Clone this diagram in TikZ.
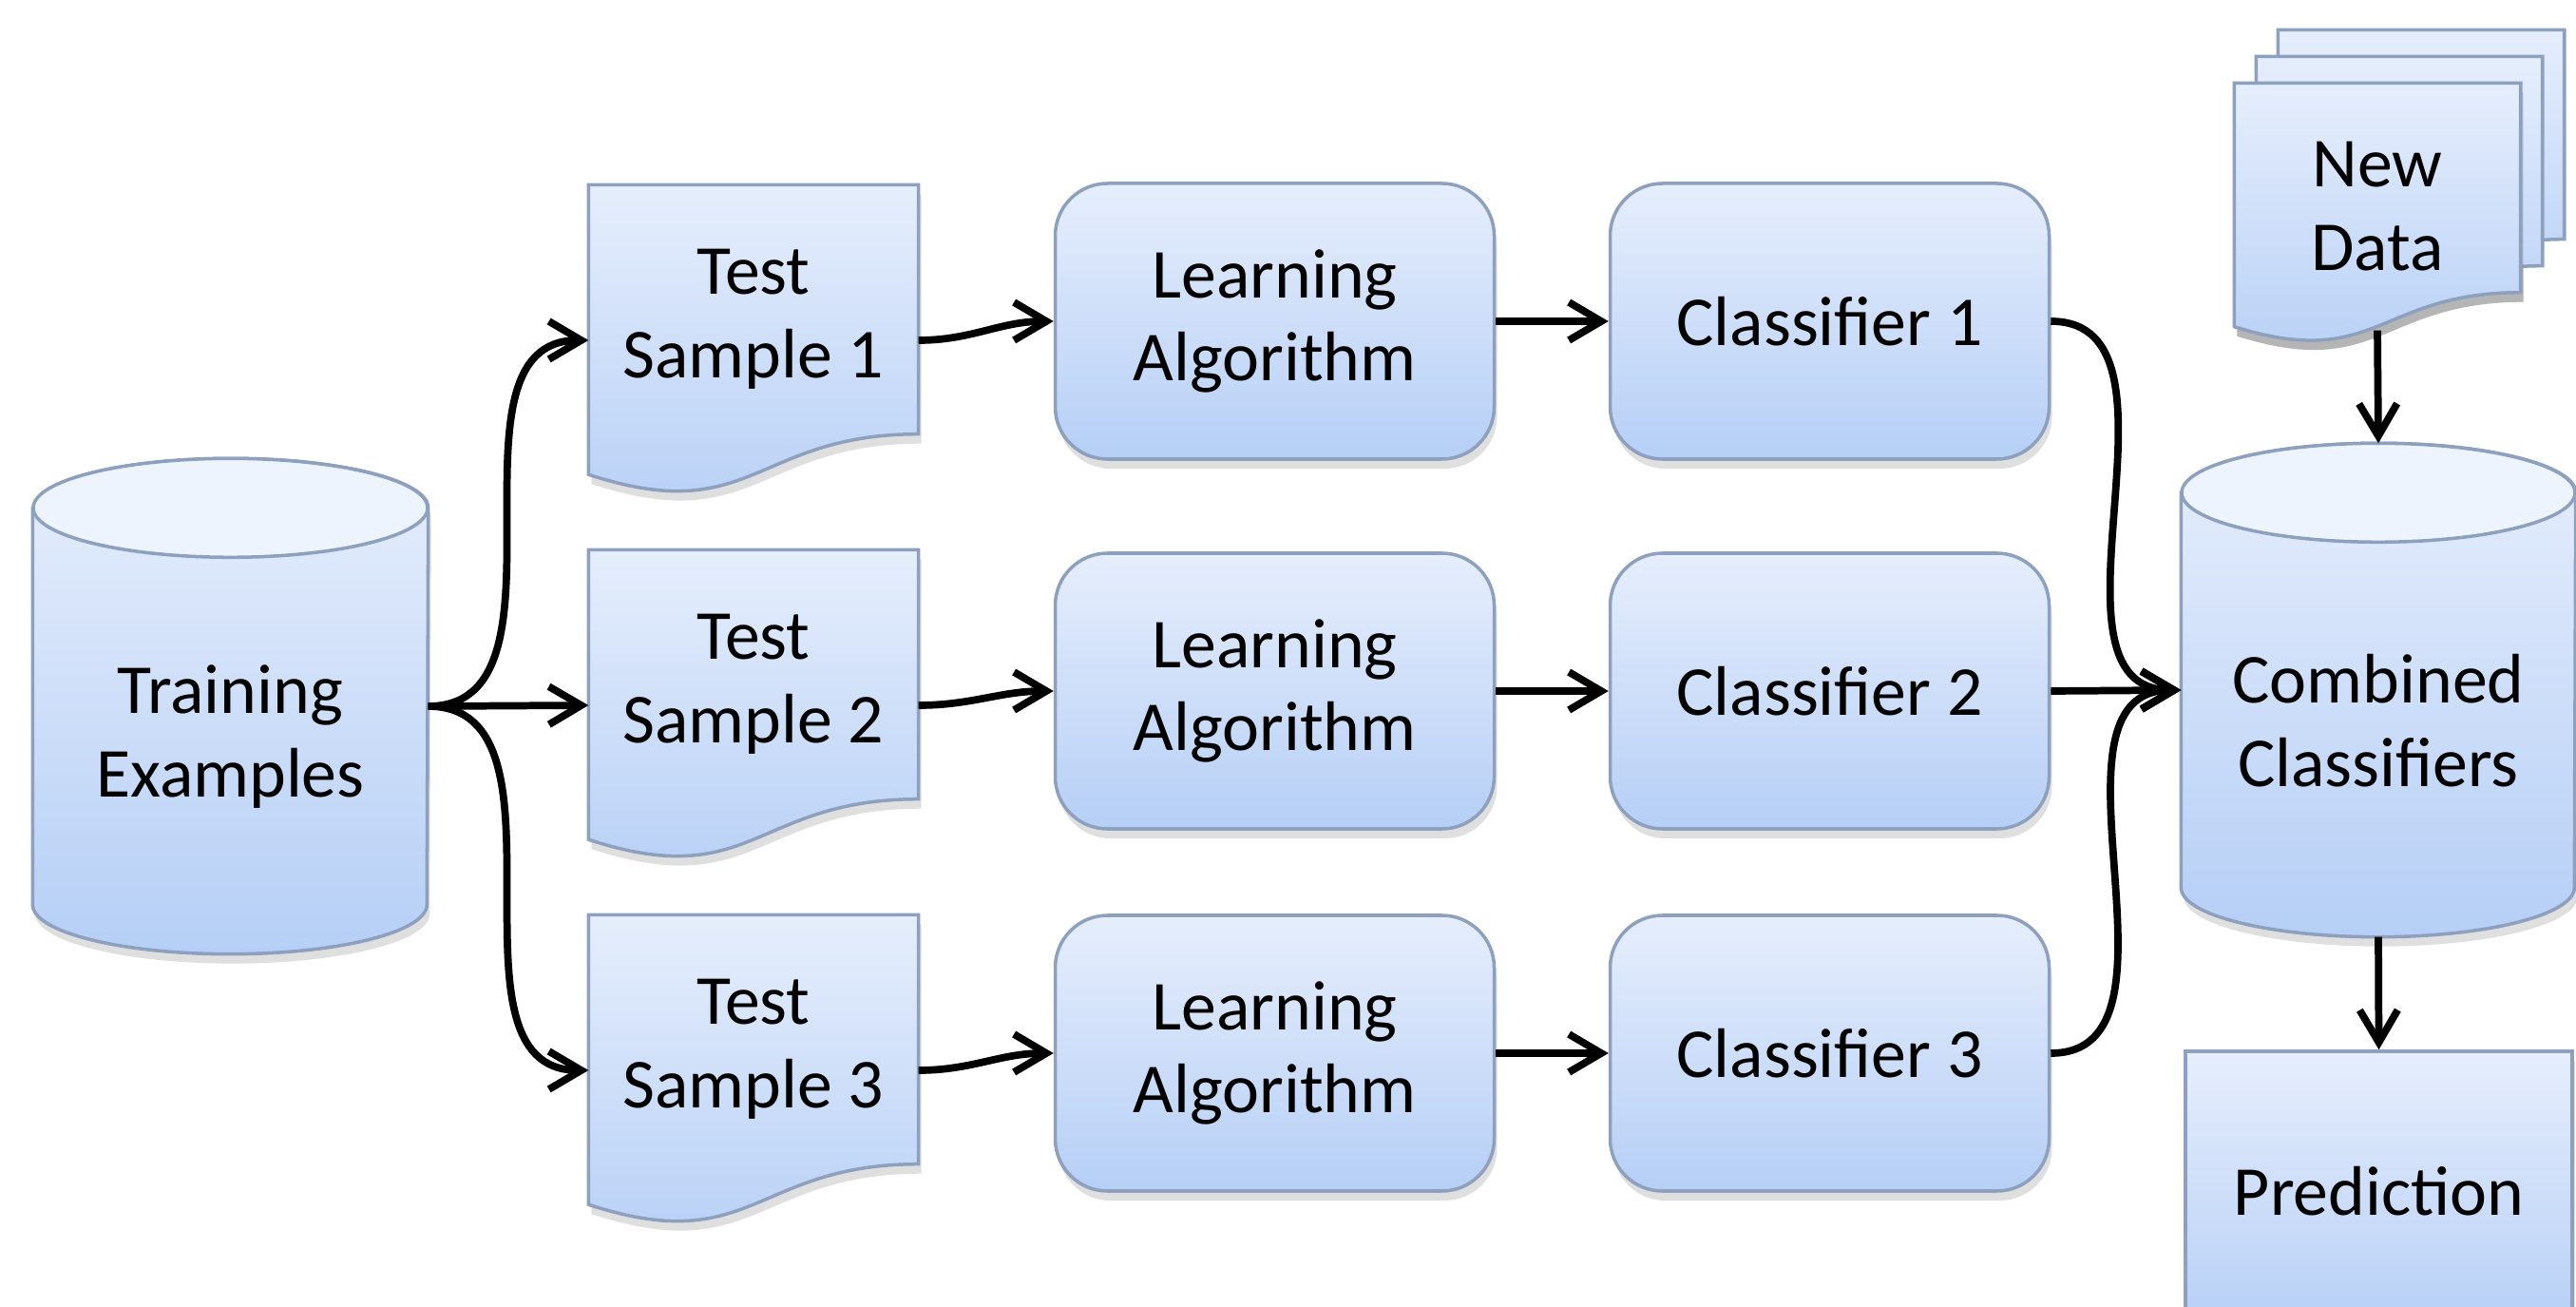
\documentclass[tikz,border=0pt]{standalone}
\usepackage{fontspec}
\setmainfont{Carlito}
\usetikzlibrary{arrows.meta, backgrounds, calc, shadows}

\definecolor{boxtop}{RGB}{230,238,252}
\definecolor{boxbottom}{RGB}{182,207,246}
\definecolor{boxline}{RGB}{141,160,190}
\definecolor{lidfill}{RGB}{237,244,253}

\tikzset{
    shaded box/.style = {top color = boxtop, bottom color = boxbottom, draw = boxline, line width = 1pt,
        drop shadow = {shadow xshift = 0.3mm, shadow yshift = -1mm, opacity = 0.25}},
    boxnode/.style = {rectangle, inner sep = 0pt, align = center, font = \fontsize{21}{25}\selectfont},
    rounded box/.style = {boxnode, shaded box, rounded corners = 5.5mm, minimum width = 4.62cm, minimum height = 2.9cm},
    flow/.style = {line width = 2.2pt, -{Straight Barb[length = 3.4mm, width = 4mm]}},
}

\begin{document}
\begin{tikzpicture}
    \path[use as bounding box, clip] (0, 0) rectangle (27.11, -13.75);

    \node[boxnode, minimum width = 4.15cm, minimum height = 5.2cm] (train) at (2.425, -7.43) {};
    \node[boxnode] (trainlbl) at ([yshift = -3.2mm]train.center) {Training\\Examples};

    \node[boxnode, minimum width = 3.46cm, minimum height = 2.82cm] (ts1) at (7.93, -3.36) {Test\\Sample 1};
    \node[boxnode, minimum width = 3.46cm, minimum height = 2.82cm] (ts2) at (7.93, -7.20) {Test\\Sample 2};
    \node[boxnode, minimum width = 3.46cm, minimum height = 2.82cm] (ts3) at (7.93, -11.04) {Test\\Sample 3};

    \node[rounded box] (la1) at (13.415, -3.38) {Learning\\Algorithm};
    \node[rounded box] (la2) at (13.415, -7.27) {Learning\\Algorithm};
    \node[rounded box] (la3) at (13.415, -11.08) {Learning\\Algorithm};

    \node[rounded box] (cl1) at (19.255, -3.38) {Classifier 1};
    \node[rounded box] (cl2) at (19.255, -7.27) {Classifier 2};
    \node[rounded box] (cl3) at (19.255, -11.08) {Classifier 3};

    \node[boxnode, minimum width = 4.14cm, minimum height = 5.18cm] (comb) at (25.03, -7.26) {};
    \node[boxnode] (comblbl) at ([yshift = -3.2mm]comb.center) {Combined\\Classifiers};
    \node[boxnode, minimum width = 3cm, minimum height = 2.59cm] (newdata) at (25.02, -2.175) {New\\Data};
    \node[boxnode, shaded box, minimum width = 4.07cm, minimum height = 2.94cm] (pred) at (25.035, -12.53) {Prediction};

    \begin{scope}[on background layer]
        % cylinders
        \path[shaded box] ($(train.north west) + (0, -0.52)$) -- ($(train.south west) + (0, 0.52)$)
            arc[start angle = 180, end angle = 360, x radius = 2.075cm, y radius = 0.52cm]
            -- ($(train.north east) + (0, -0.52)$)
            arc[start angle = 0, end angle = 180, x radius = 2.075cm, y radius = 0.52cm] -- cycle;
        \filldraw[fill = lidfill, draw = boxline, line width = 1pt] ($(train.north) + (0, -0.52)$) ellipse[x radius = 2.075cm, y radius = 0.52cm];

        \path[shaded box] ($(comb.north west) + (0, -0.52)$) -- ($(comb.south west) + (0, 0.52)$)
            arc[start angle = 180, end angle = 360, x radius = 2.07cm, y radius = 0.52cm]
            -- ($(comb.north east) + (0, -0.52)$)
            arc[start angle = 0, end angle = 180, x radius = 2.07cm, y radius = 0.52cm] -- cycle;
        \filldraw[fill = lidfill, draw = boxline, line width = 1pt] ($(comb.north) + (0, -0.52)$) ellipse[x radius = 2.07cm, y radius = 0.52cm];

        % test samples
        \path[shaded box] (ts1.north west) -- (ts1.north east) -- ($(ts1.south east) + (0, 0.21)$)
            .. controls +(-1.73, 0) and +(1.73, -0.565) .. ($(ts1.south west) + (0, -0.215)$) -- cycle;
        \path[shaded box] (ts2.north west) -- (ts2.north east) -- ($(ts2.south east) + (0, 0.21)$)
            .. controls +(-1.73, 0) and +(1.73, -0.565) .. ($(ts2.south west) + (0, -0.215)$) -- cycle;
        \path[shaded box] (ts3.north west) -- (ts3.north east) -- ($(ts3.south east) + (0, 0.21)$)
            .. controls +(-1.73, 0) and +(1.73, -0.565) .. ($(ts3.south west) + (0, -0.215)$) -- cycle;

        % new data stack
        \path[shaded box, transform canvas = {shift = {(0.46, 0.56)}}] (newdata.north west) -- (newdata.north east) -- ($(newdata.south east) + (0, 0.40)$)
            .. controls +(-1.5, 0) and +(1.5, -0.47) .. ($(newdata.south west) + (0, 0.04)$) -- cycle;
        \path[shaded box, transform canvas = {shift = {(0.23, 0.28)}}] (newdata.north west) -- (newdata.north east) -- ($(newdata.south east) + (0, 0.40)$)
            .. controls +(-1.5, 0) and +(1.5, -0.47) .. ($(newdata.south west) + (0, 0.04)$) -- cycle;
        \path[shaded box] (newdata.north west) -- (newdata.north east) -- ($(newdata.south east) + (0, 0.40)$)
            .. controls +(-1.5, 0) and +(1.5, -0.47) .. ($(newdata.south west) + (0, 0.04)$) -- cycle;
    \end{scope}

    \draw[flow] (train.east) to[out = 0, in = 180] ([yshift = -2.2mm]ts1.west);
    \draw[flow] (train.east) -- ([yshift = -2.2mm]ts2.west);
    \draw[flow] (train.east) to[out = 0, in = 180] ([yshift = -2.2mm]ts3.west);

    \draw[flow] ([yshift = -2.2mm]ts1.east) to[out = 0, in = 180] (la1.west);
    \draw[flow] ([yshift = -2.2mm]ts2.east) to[out = 0, in = 180] (la2.west);
    \draw[flow] ([yshift = -2.2mm]ts3.east) to[out = 0, in = 180] (la3.west);

    \draw[flow] (la1.east) -- (cl1.west);
    \draw[flow] (la2.east) -- (cl2.west);
    \draw[flow] (la3.east) -- (cl3.west);

    \draw[flow] (cl1.east) to[out = 0, in = 180] (comb.west);
    \draw[flow] (cl2.east) -- (comb.west);
    \draw[flow] (cl3.east) to[out = 0, in = 180] (comb.west);

    \draw[flow] (newdata.south) -- (comb.north);
    \draw[flow] (comb.south) -- (pred.north);
\end{tikzpicture}
\end{document}
